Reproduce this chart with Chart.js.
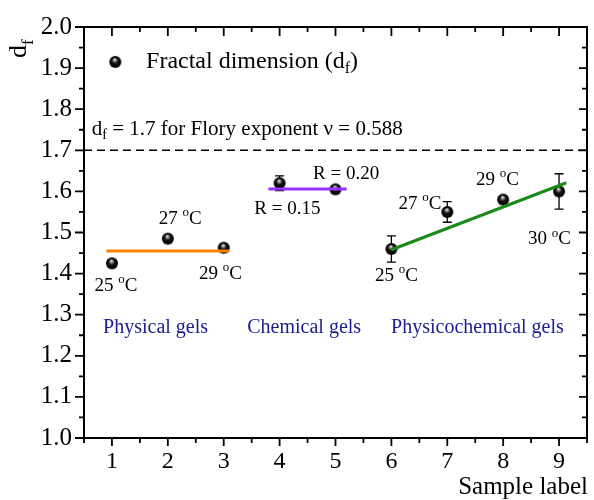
<!DOCTYPE html>
<html>
<head>
<meta charset="utf-8">
<script src="https://cdn.jsdelivr.net/npm/chart.js@4.4.1/dist/chart.umd.min.js"></script>
<style>
  html, body { margin: 0; padding: 0; background: #fff; }
  #wrap { width: 594px; height: 500px; }
</style>
</head>
<body>
<div id="wrap"><canvas id="myChart" width="594" height="500"></canvas></div>
<script>
// data
const sampleLabels = [1, 2, 3, 4, 5, 6, 7, 8, 9];
const dfValues = [1.425, 1.485, 1.463, 1.62, 1.605, 1.46, 1.55, 1.58, 1.60];
const dfErrors = [0.007, 0.004, 0.005, 0.018, 0.007, 0.032, 0.025, 0.005, 0.043];

const physicalFitX = [0.9, 3.1];
const physicalFitY = [1.455, 1.455];
const chemicalFitX = [3.8, 5.2];
const chemicalFitY = [1.606, 1.606];
const physchemFitX = [6.0, 9.13];
const physchemFitY = [1.458, 1.621];
const floryX = [0.5, 9.5];
const floryY = [1.7, 1.7];

const xTicks = [1, 2, 3, 4, 5, 6, 7, 8, 9];
const yTicks = [1.0, 1.1, 1.2, 1.3, 1.4, 1.5, 1.6, 1.7, 1.8, 1.9, 2.0];

const FONT = '"Liberation Serif", "Times New Roman", serif';

function pts(xs, ys) { return xs.map((x, i) => ({ x: x, y: ys[i] })); }

// shaded ball marker
function makeBall(r) {
  const c = document.createElement('canvas');
  c.width = c.height = 2 * r + 2;
  const g = c.getContext('2d');
  const cx = r + 1, cy = r + 1;
  const grad = g.createRadialGradient(cx - r * 0.1, cy - r * 0.45, 0, cx, cy, r);
  grad.addColorStop(0, '#f4f4f4');
  grad.addColorStop(0.25, '#8a8a8a');
  grad.addColorStop(0.5, '#111');
  grad.addColorStop(1, '#000');
  g.fillStyle = grad;
  g.beginPath();
  g.arc(cx, cy, r, 0, Math.PI * 2);
  g.fill();
  return c;
}
const ball = makeBall(6);

// text with superscript / subscript parts
function drawRich(ctx, parts, x, y, size, align, color) {
  const small = Math.round(size * 0.68);
  let w = 0;
  parts.forEach(p => {
    ctx.font = (p.sup || p.sub ? small : size) + 'px ' + FONT;
    p.w = ctx.measureText(p.t).width;
    w += p.w;
  });
  let cx = align === 'center' ? x - w / 2 : (align === 'right' ? x - w : x);
  ctx.fillStyle = color || '#000';
  ctx.textAlign = 'left';
  ctx.textBaseline = 'middle';
  parts.forEach(p => {
    ctx.font = (p.sup || p.sub ? small : size) + 'px ' + FONT;
    let dy = 0;
    if (p.sup) dy = -size * 0.33;
    if (p.sub) dy = size * 0.3;
    ctx.fillText(p.t, cx, y + dy);
    cx += p.w;
  });
}

const deg = t => [{ t: t + ' ' }, { t: 'o', sup: true }, { t: 'C' }];

const annotations = [
  { x: 1.07, y: 1.370, parts: deg('25') },
  { x: 2.22, y: 1.534, parts: deg('27') },
  { x: 2.94, y: 1.399, parts: deg('29') },
  { x: 4.14, y: 1.556, parts: [{ t: 'R = 0.15' }] },
  { x: 5.19, y: 1.643, parts: [{ t: 'R = 0.20' }] },
  { x: 6.09, y: 1.394, parts: deg('25') },
  { x: 6.51, y: 1.570, parts: deg('27') },
  { x: 7.90, y: 1.628, parts: deg('29') },
  { x: 8.83, y: 1.483, parts: deg('30') }
];
const groupLabels = [
  { x: 1.78, y: 1.268, t: 'Physical gels' },
  { x: 4.44, y: 1.268, t: 'Chemical gels' },
  { x: 7.54, y: 1.268, t: 'Physicochemical gels' }
];

const decorPlugin = {
  id: 'decor',
  beforeDatasetsDraw(chart) {
    const ctx = chart.ctx, xs = chart.scales.x, ys = chart.scales.y;
    ctx.save();
    ctx.strokeStyle = '#000';
    ctx.lineWidth = 1.3;
    sampleLabels.forEach((s, i) => {
      const px = xs.getPixelForValue(s);
      const top = ys.getPixelForValue(dfValues[i] + dfErrors[i]);
      const bot = ys.getPixelForValue(dfValues[i] - dfErrors[i]);
      ctx.beginPath();
      ctx.moveTo(px, top); ctx.lineTo(px, bot);
      ctx.moveTo(px - 4.5, top); ctx.lineTo(px + 4.5, top);
      ctx.moveTo(px - 4.5, bot); ctx.lineTo(px + 4.5, bot);
      ctx.stroke();
    });
    ctx.restore();
  },
  afterDraw(chart) {
    const ctx = chart.ctx, xs = chart.scales.x, ys = chart.scales.y;
    const a = chart.chartArea;
    ctx.save();
    // frame
    ctx.strokeStyle = '#000';
    ctx.lineWidth = 2;
    ctx.strokeRect(a.left, a.top, a.right - a.left, a.bottom - a.top);
    // ticks
    ctx.lineWidth = 1.8;
    ctx.beginPath();
    for (let v = 1.0; v <= 2.0001; v += 0.05) {
      const major = Math.abs(v * 10 - Math.round(v * 10)) < 1e-6;
      const py = ys.getPixelForValue(v);
      const lo = major ? 9 : 5, li = major ? 8 : 5;
      ctx.moveTo(a.left, py); ctx.lineTo(a.left - lo, py);
      ctx.moveTo(a.right, py); ctx.lineTo(a.right - li, py);
    }
    for (let v = 0.5; v <= 9.5001; v += 0.5) {
      const major = Math.abs(v - Math.round(v)) < 1e-6;
      const px = xs.getPixelForValue(v);
      const lo = major ? 8 : 5, li = major ? 9 : 5;
      ctx.moveTo(px, a.bottom); ctx.lineTo(px, a.bottom + lo);
      ctx.moveTo(px, a.top); ctx.lineTo(px, a.top + li);
    }
    ctx.stroke();

    // annotations
    annotations.forEach(an => {
      drawRich(ctx, an.parts, xs.getPixelForValue(an.x), ys.getPixelForValue(an.y), 19, 'center');
    });
    groupLabels.forEach(g => {
      drawRich(ctx, [{ t: g.t }], xs.getPixelForValue(g.x), ys.getPixelForValue(g.y), 20, 'center', '#1c1c8e');
    });
    drawRich(ctx, [{ t: 'd' }, { t: 'f', sub: true }, { t: ' = 1.7 for Flory exponent \u03bd = 0.588' }],
      xs.getPixelForValue(0.64), ys.getPixelForValue(1.751), 21, 'left');

    // legend
    const lx = xs.getPixelForValue(1.06), ly = ys.getPixelForValue(1.915);
    ctx.drawImage(ball, lx - ball.width / 2, ly - ball.height / 2);
    drawRich(ctx, [{ t: 'Fractal dimension (d' }, { t: 'f', sub: true }, { t: ')' }],
      xs.getPixelForValue(1.61), ly, 24, 'left');

    // axis titles
    drawRich(ctx, [{ t: 'Sample label' }], 588, 487, 25, 'right');
    ctx.translate(26, 58);
    ctx.rotate(-Math.PI / 2);
    ctx.fillStyle = '#000';
    ctx.textAlign = 'left';
    ctx.textBaseline = 'alphabetic';
    ctx.font = '26px ' + FONT;
    ctx.fillText('d', 0, 0);
    const dw = ctx.measureText('d').width;
    ctx.font = '17px ' + FONT;
    ctx.fillText('f', dw, 7);
    ctx.restore();
  }
};

const ctx = document.getElementById('myChart').getContext('2d');
const chart = new Chart(ctx, {
  type: 'scatter',
  data: {
    datasets: [
      { type: 'line', data: pts(physicalFitX, physicalFitY), borderColor: '#ff8000', borderWidth: 3, pointRadius: 0 },
      { type: 'line', data: pts(chemicalFitX, chemicalFitY), borderColor: '#9b30ff', borderWidth: 3, pointRadius: 0 },
      { type: 'line', data: pts(physchemFitX, physchemFitY), borderColor: '#1a8a1a', borderWidth: 3, pointRadius: 0 },
      { type: 'line', data: pts(floryX, floryY), borderColor: '#000', borderWidth: 1.4, borderDash: [8, 5], pointRadius: 0 },
      {
        label: 'Fractal dimension',
        data: pts(sampleLabels, dfValues),
        pointStyle: ball,
        pointRadius: 6
      }
    ]
  },
  options: {
    responsive: false,
    animation: false,
    layout: { padding: { left: 0, top: 24, right: 2, bottom: 0 } },
    plugins: { legend: { display: false }, tooltip: { enabled: false } },
    scales: {
      x: {
        type: 'linear', min: 0.5, max: 9.5,
        afterBuildTicks: s => { s.ticks = xTicks.map(v => ({ value: v })); },
        afterFit: s => { s.height = 62; },
        grid: { display: false, drawTicks: false },
        border: { display: false },
        ticks: { font: { family: FONT, size: 24 }, color: '#000', padding: 9, maxRotation: 0, autoSkip: false }
      },
      y: {
        type: 'linear', min: 1.0, max: 2.0,
        afterBuildTicks: s => { s.ticks = yTicks.map(v => ({ value: v })); },
        afterFit: s => { s.width = 84; },
        grid: { display: false, drawTicks: false },
        border: { display: false },
        ticks: { font: { family: FONT, size: 25 }, color: '#000', padding: 12, callback: v => v.toFixed(1) }
      }
    }
  },
  plugins: [decorPlugin]
});
</script>
</body>
</html>
